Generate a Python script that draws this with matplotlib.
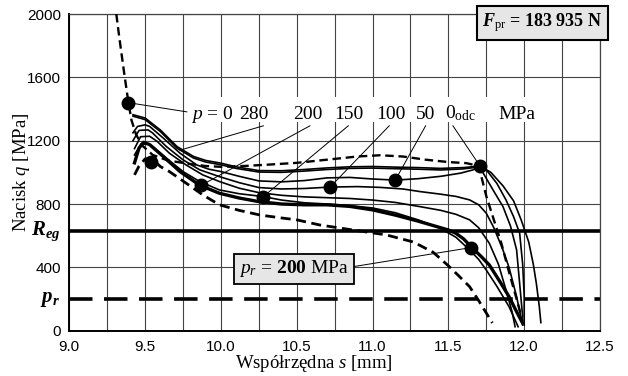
import matplotlib
matplotlib.use("Agg")
import matplotlib.pyplot as plt
from matplotlib.patches import Rectangle
from matplotlib.ticker import MultipleLocator

plt.rcParams['mathtext.fontset'] = 'custom'
plt.rcParams['mathtext.rm'] = 'Liberation Serif'
plt.rcParams['mathtext.it'] = 'Liberation Serif:italic'
plt.rcParams['mathtext.bf'] = 'Liberation Serif:bold'
plt.rcParams['mathtext.bfit'] = 'Liberation Serif:italic:bold'

SERIF = 'Liberation Serif'
SANS = 'Liberation Sans'

# ---------------- data ----------------
# p = 0 (upper dashed)
xA = [9.31, 9.33, 9.36, 9.39, 9.41, 9.44, 9.48, 9.55, 9.65, 9.78, 9.9, 10.0, 10.15, 10.3, 10.5,
      10.7, 10.9, 11.05, 11.2, 11.35, 11.5, 11.62, 11.7, 11.75, 11.8, 11.85, 11.9, 11.95, 11.99]
yA = [2000, 1850, 1640, 1440, 1330, 1240, 1170, 1110, 1075, 1055, 1040, 1035, 1040, 1048, 1060,
      1080, 1100, 1108, 1100, 1080, 1065, 1058, 1040, 850, 700, 550, 370, 200, 60]

# top solid
xB = [9.42, 9.5, 9.6, 9.71, 9.82, 9.9, 10.0, 10.1, 10.25, 10.4, 10.55, 10.7, 10.85, 11.0, 11.15,
      11.3, 11.45, 11.6, 11.71, 11.78, 11.86, 11.93, 11.98, 12.03, 12.06, 12.08, 12.10, 12.11]
yB = [1364, 1343, 1268, 1163, 1100, 1075, 1058, 1035, 1011, 1010, 1018, 1028, 1035, 1037, 1033,
      1030, 1025, 1030, 1040, 1000, 915, 820, 700, 560, 420, 300, 150, 51]

# second solid close to the top one
xB2 = [9.42, 9.5, 9.6, 9.71, 9.82, 9.9, 10.0, 10.1, 10.25, 10.4, 10.55, 10.7, 10.85, 11.0, 11.15,
       11.3, 11.45, 11.6, 11.71, 11.73, 11.8, 11.86, 11.91, 11.95, 11.99]
yB2 = [1355, 1333, 1258, 1153, 1090, 1065, 1048, 1025, 1002, 1000, 1008, 1018, 1025, 1027, 1023,
       1020, 1015, 1022, 1035, 995, 880, 784, 660, 510, 88]

xC = [9.42, 9.45, 9.5, 9.53, 9.62, 9.73, 9.84, 9.92, 10.0, 10.12, 10.25, 10.4, 10.55, 10.7, 10.85,
      11.0, 11.15, 11.3, 11.45, 11.58, 11.66, 11.71, 11.75, 11.82, 11.88, 11.93, 11.97, 11.99, 12.0, 12.0]
yC = [1250, 1290, 1300, 1290, 1216, 1121, 1047, 1020, 1005, 975, 946, 940, 948, 965, 968,
      958, 951, 960, 975, 995, 1015, 1035, 1016, 930, 826, 720, 616, 420, 220, 36]

xD = [9.42, 9.46, 9.52, 9.55, 9.64, 9.75, 9.86, 9.99, 10.12, 10.25, 10.4, 10.55, 10.72, 10.9, 11.05,
      11.2, 11.31, 11.45, 11.55, 11.64, 11.7, 11.75, 11.8, 11.86, 11.9, 11.95, 11.99]
yD = [1200, 1265, 1268, 1248, 1163, 1079, 1016, 973, 935, 904, 895, 898, 907, 910, 905,
      895, 879, 862, 848, 826, 795, 742, 650, 510, 400, 215, 36]

xE = [9.43, 9.47, 9.53, 9.58, 9.66, 9.77, 9.88, 9.99, 10.12, 10.25, 10.4, 10.55, 10.7, 10.85, 11.0,
      11.15, 11.31, 11.45, 11.55, 11.64, 11.7, 11.77, 11.83, 11.88, 11.92, 11.94]
yE = [1150, 1225, 1228, 1195, 1121, 1047, 984, 942, 900, 872, 855, 845, 840, 835, 825,
      810, 784, 760, 735, 700, 650, 552, 420, 257, 120, 25]

xF = [9.43, 9.47, 9.52, 9.55, 9.64, 9.75, 9.86, 9.99, 10.12, 10.28, 10.4, 10.55, 10.7, 10.85, 11.0,
      11.15, 11.3, 11.45, 11.55, 11.64, 11.7, 11.75, 11.82, 11.9, 11.96]
yF = [1110, 1175, 1180, 1163, 1090, 1005, 942, 889, 865, 847, 825, 808, 800, 790, 775,
      745, 700, 645, 590, 510, 450, 383, 280, 152, 25]

# thick curve (p_r = 200 MPa)
xT = [9.43, 9.46, 9.49, 9.53, 9.62, 9.73, 9.84, 9.87, 9.99, 10.12, 10.25, 10.4, 10.55, 10.7, 10.85,
      11.0, 11.15, 11.3, 11.45, 11.5, 11.55, 11.6, 11.65, 11.72, 11.77, 11.84, 11.9, 11.95, 11.99]
yT = [1060, 1153, 1190, 1175, 1100, 1005, 932, 915, 868, 838, 815, 800, 795, 795, 785,
      763, 730, 692, 650, 636, 615, 580, 531, 465, 415, 310, 215, 120, 47]

# lower dashed
xG = [9.43, 9.46, 9.5, 9.54, 9.6, 9.66, 9.77, 9.88, 9.99, 10.12, 10.26, 10.4, 10.5, 10.65, 10.87,
      11.09, 11.27, 11.4, 11.5, 11.57, 11.64, 11.7, 11.75, 11.79]
yG = [984, 1040, 1085, 1090, 1037, 1005, 932, 858, 795, 760, 730, 712, 700, 668, 636,
      605, 560, 495, 410, 345, 278, 190, 112, 49]

# marked points
dot_x = [9.39, 9.54, 9.87, 10.28, 10.72, 11.15, 11.71, 11.65]
dot_y = [1440, 1068, 918, 847, 907, 951, 1038, 525]

Reg = 630
p_r = 200

# labels of the curve family and the points they point at
lab_text = [r'$p$ = 0', '280', '200', '150', '100', '50', r'0$_{\mathrm{odc}}$', 'MPa']
lab_x = [9.94, 10.22, 10.57, 10.845, 11.12, 11.35, 11.58, 11.95]
lead_start_x = [9.775, 10.28, 10.587, 10.84, 11.11, 11.35, 11.53]
lead_end_x = [9.39, 9.73, 9.87, 10.28, 10.72, 11.15, 11.71]
lead_end_y = [1440, 1140, 918, 847, 907, 951, 1038]

xticks = [9.0, 9.5, 10.0, 10.5, 11.0, 11.5, 12.0, 12.5]
yticks = [0, 400, 800, 1200, 1600, 2000]

# ---------------- figure ----------------
fig = plt.figure(figsize=(6.28, 3.76), dpi=100)
ax = fig.add_axes([69.3 / 628, 1 - 330.7 / 376, (600 - 69.3) / 628, (330.7 - 14) / 376])
ax.set_xlim(9.0, 12.5)
ax.set_ylim(0, 2000)

ax.set_xticks(xticks)
ax.set_xticklabels([f'{v:.1f}' for v in xticks], fontfamily=SANS, fontsize=11)
ax.xaxis.set_minor_locator(MultipleLocator(0.25))
ax.set_yticks(yticks)
ax.set_yticklabels([str(v) for v in yticks], fontfamily=SANS, fontsize=11)
ax.tick_params(axis='both', which='both', length=0)
ax.tick_params(axis='x', pad=7)
ax.tick_params(axis='y', pad=6)
ax.grid(True, which='both', axis='x', color='#444444', lw=0.8, zorder=0)
ax.grid(True, which='major', axis='y', color='#444444', lw=0.8, zorder=0)
ax.set_axisbelow(True)
for s in ['top', 'right']:
    ax.spines[s].set_color('#444444')
    ax.spines[s].set_linewidth(0.9)
for s in ['left', 'bottom']:
    ax.spines[s].set_color('black')
    ax.spines[s].set_linewidth(1.4)

# horizontal reference lines
ax.axhline(Reg, color='black', lw=2.6, zorder=2)
ax.axhline(p_r, color='black', lw=2.6, ls=(0, (6.5, 3.2)), zorder=2)

# curves
thin = 1.2
dash = (0, (3.6, 2.0))
ax.plot(xA, yA, color='black', lw=1.7, ls=dash, zorder=3)
ax.plot(xB, yB, color='black', lw=thin, zorder=3)
ax.plot(xB2, yB2, color='black', lw=thin, zorder=3)
ax.plot(xC, yC, color='black', lw=thin, zorder=3)
ax.plot(xD, yD, color='black', lw=thin, zorder=3)
ax.plot(xE, yE, color='black', lw=thin, zorder=3)
ax.plot(xF, yF, color='black', lw=thin, zorder=3)
ax.plot(xT, yT, color='black', lw=2.4, zorder=3)
ax.plot(xG, yG, color='black', lw=2.0, ls=dash, zorder=3)

ax.plot(dot_x, dot_y, 'o', color='black', ms=9, zorder=5)

# white label band
ax.add_patch(Rectangle((9.78, 1315), 12.15 - 9.78, 1477 - 1315, facecolor='white',
                       edgecolor='none', zorder=4))
for t, x in zip(lab_text, lab_x):
    ax.text(x, 1340, t, fontfamily=SERIF, fontsize=14, ha='center', va='baseline', zorder=6)

# leader lines
for i, (xs, xe, ye) in enumerate(zip(lead_start_x, lead_end_x, lead_end_y)):
    ys = 1382 if i == 0 else 1294
    ax.plot([xs, xe], [ys, ye], color='black', lw=0.7, zorder=6)

# p_r box + leader
ax.plot([10.87, 11.65], [404, 525], color='black', lw=0.7, zorder=6)
ax.text(10.48, 390, r'$p_r$ = $\mathbf{200}$ MPa', fontfamily=SERIF, fontsize=14,
        ha='center', va='center', zorder=7,
        bbox=dict(boxstyle='square,pad=0.25', facecolor='#e6e6e6', edgecolor='black', lw=1.3))

# side labels R_eg and p_r
trans = ax.get_yaxis_transform()
ax.text(-0.017, Reg, r'$\mathbfit{R}_{\mathbfit{eg}}$', transform=trans, ha='right', va='center',
        fontsize=15, fontfamily=SERIF)
ax.text(-0.017, p_r, r'$\mathbfit{p}_{\mathbfit{r}}$', transform=trans, ha='right', va='center',
        fontsize=15, fontfamily=SERIF)

# F_pr box
fig.text(542.5 / 628, 1 - 23 / 376, r'$\mathbfit{F}_{\mathrm{pr}}$ = 183 935 N', fontfamily=SERIF,
         fontweight='bold', fontsize=13, ha='center', va='center',
         bbox=dict(boxstyle='square,pad=0.3', facecolor='#e6e6e6', edgecolor='black', lw=1.5))

# axis titles
fig.text(22 / 628, 1 - 172 / 376, r'Nacisk $q$ [MPa]', rotation=90, fontfamily=SERIF,
         fontsize=13.5, ha='center', va='center')
fig.text(314 / 628, 1 - 364 / 376, r'Współrzędna $s$ [mm]', fontfamily=SERIF,
         fontsize=13.5, ha='center', va='center')

fig.savefig('out.png', dpi=100)
